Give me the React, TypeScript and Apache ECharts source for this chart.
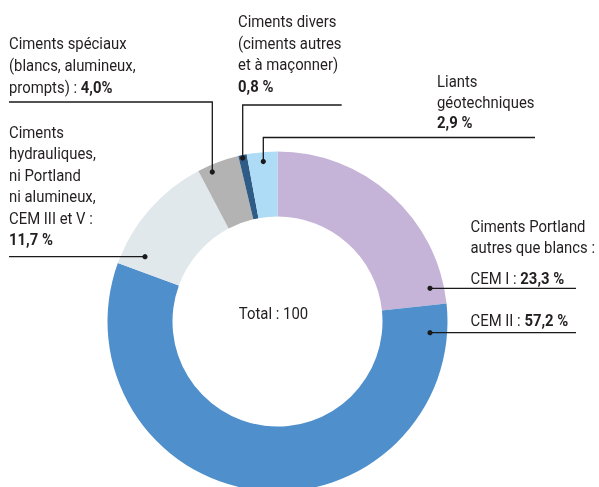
import React, { useEffect, useRef } from "react";
import * as echarts from "echarts";

const categories = [
  "CEM I",
  "CEM II",
  "Ciments hydrauliques, ni Portland ni alumineux, CEM III et V",
  "Ciments spéciaux (blancs, alumineux, prompts)",
  "Ciments divers (ciments autres et à maçonner)",
  "Liants géotechniques",
];
const values = [23.3, 57.2, 11.7, 4.0, 0.8, 2.9];
const valueLabels = ["23,3 %", "57,2 %", "11,7 %", "4,0%", "0,8 %", "2,9 %"];
const colors = ["#c6b4d8", "#4f8fcc", "#e1e8eb", "#b3b3b3", "#2e5c87", "#aedcf6"];
const totalLabel = "Total : 100";

const FONT = "Roboto, 'Liberation Sans', sans-serif";
const FS = 17;
const SX = 0.875; // condensed look
const TXT = "#231f20";

// Annotation layout (text blocks and leader lines)
type Block = { x: number; ys: number[]; lines: string[] };
const blocks: Block[] = [
  { x: 9, ys: [43, 65, 87], lines: ["Ciments spéciaux", "(blancs, alumineux,", "prompts) : {b|" + valueLabels[3] + "}"] },
  { x: 238, ys: [21.5, 43, 64.5, 86], lines: ["Ciments divers", "(ciments autres", "et à maçonner)", "{b|" + valueLabels[4] + "}"] },
  { x: 437, ys: [81.5, 102, 122.5], lines: ["Liants", "géotechniques", "{b|" + valueLabels[5] + "}"] },
  { x: 9, ys: [132, 153.5, 175, 196.5, 218, 239.5], lines: ["Ciments", "hydrauliques,", "ni Portland", "ni alumineux,", "CEM III et V :", "{b|" + valueLabels[2] + "}"] },
  { x: 470.5, ys: [226, 247.5, 278.5, 320.5], lines: ["Ciments Portland", "autres que blancs :", "CEM I : {b|" + valueLabels[0] + "}", "CEM II : {b|" + valueLabels[1] + "}"] },
];
// leaders: polyline points, last point gets the dot
const leaders: number[][][] = [
  [[9, 102], [212.3, 102], [212.3, 172]],
  [[341.7, 105], [242.7, 105], [242.7, 158]],
  [[535, 137.5], [263.3, 137.5], [263.3, 161.5]],
  [[9, 256.7], [145, 256.7]],
  [[576, 288.3], [430, 288.3]],
  [[576, 332.7], [430, 332.7]],
];

function textEl(x: number, y: number, text: string, align: string) {
  return {
    type: "text",
    x,
    y,
    scaleX: SX,
    z: 100,
    style: {
      x: 0,
      y: 0,
      text,
      fontFamily: FONT,
      fontSize: FS,
      fill: TXT,
      verticalAlign: "middle",
      align,
      rich: {
        b: { fontFamily: FONT, fontSize: FS, fontWeight: "bold", fill: TXT, color: TXT },
      },
    },
  };
}

export default function App() {
  const ref = useRef<HTMLDivElement>(null);
  useEffect(() => {
    if (!ref.current) return;
    const chart = echarts.init(ref.current, undefined, { renderer: "svg" });
    const graphics: any[] = [];
    blocks.forEach((b) => {
      b.lines.forEach((line, i) => graphics.push(textEl(b.x, b.ys[i], line, "left")));
    });
    leaders.forEach((pts) => {
      graphics.push({
        type: "polyline",
        z: 100,
        shape: { points: pts },
        style: { stroke: "#1a1a1a", lineWidth: 1.3, fill: "none" },
      });
      const last = pts[pts.length - 1];
      graphics.push({
        type: "circle",
        z: 101,
        shape: { cx: last[0], cy: last[1], r: 2.6 },
        style: { fill: "#1a1a1a" },
      });
    });
    graphics.push(textEl(273.5, 313.5, totalLabel, "center"));
    chart.setOption({
      animation: false,
      series: [
        {
          type: "pie",
          center: [277.5, 321.5],
          radius: [105, 170],
          startAngle: 90,
          clockwise: true,
          label: { show: false },
          labelLine: { show: false },
          emphasis: { disabled: true },
          itemStyle: { borderWidth: 0 },
          data: categories.map((c, i) => ({ name: c, value: values[i], itemStyle: { color: colors[i] } })),
        },
      ],
      graphic: graphics,
    });
    return () => chart.dispose();
  }, []);
  return <div ref={ref} style={{ position: "fixed", left: 0, top: 0, width: 599, height: 487 }} />;
}
